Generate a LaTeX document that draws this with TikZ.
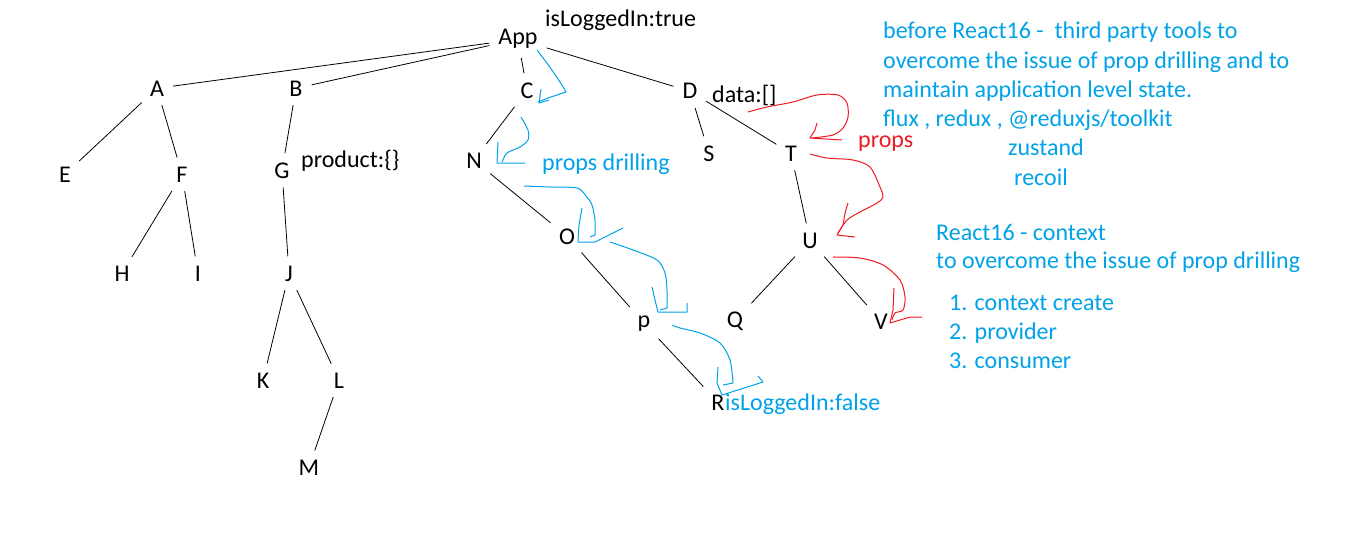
\documentclass[tikz,border=0pt]{standalone}
\usepackage{fontspec}
\setmainfont{Carlito}
\usetikzlibrary{arrows.meta}
\definecolor{paintblue}{RGB}{0,162,232}
\definecolor{paintred}{RGB}{237,28,36}
\tikzset{
  tn/.style={anchor=base, inner sep=6pt, font=\fontsize{24}{29}\selectfont},
  note/.style={anchor=base west, inner sep=0pt, font=\fontsize{24}{29}\selectfont},
  edge/.style={line width=0.8pt, shorten <=3pt, shorten >=3pt},
  bluepen/.style={paintblue, line width=1pt, line join=round},
  redpen/.style={paintred, line width=1pt, line join=round}
}
\begin{document}
\begin{tikzpicture}[x=1pt,y=-1pt]
\useasboundingbox[fill=white] (0,0) rectangle (1360,551);
% tree nodes
\node[tn] (App) at (518,45) {App};
\node[tn] (A) at (157,96) {A};
\node[tn] (B) at (296,96) {B};
\node[tn] (C) at (527,98) {C};
\node[tn] (D) at (690,99) {D};
\node[tn] (E) at (65,182) {E};
\node[tn] (F) at (182,182) {F};
\node[tn] (G) at (282,178) {G};
\node[tn] (N) at (474,168) {N};
\node[tn] (S) at (709,161) {S};
\node[tn] (T) at (791,161) {T};
\node[tn] (H) at (122,281) {H};
\node[tn] (I) at (198,281) {I};
\node[tn] (J) at (289,281) {J};
\node[tn] (O) at (567,244) {O};
\node[tn] (U) at (810,248) {U};
\node[tn] (p) at (644,327) {p};
\node[tn] (Q) at (735,327) {Q};
\node[tn] (V) at (881,329) {V};
\node[tn] (K) at (263,388) {K};
\node[tn] (L) at (339,388) {L};
\node[tn] (R) at (718,410) {R};
\node[tn] (M) at (309,475) {M};
% connectors
\foreach \a/\b in {App/A,App/B,App/C,App/D,A/E,A/F,B/G,F/H,F/I,G/J,J/K,J/L,L/M,
  C/N,N/O,O/p,p/R,D/S,D/T,T/U,U/Q,U/V}
  \draw[edge] (\a) -- (\b);
% state labels
\node[note] (logtrue) at (545,27) {isLoggedIn:true};
\node[note] (product) at (301,167) {product:\{\}};
\node[note] (data) at (712,102) {data:[]};
\node[note, text=paintblue] (drill) at (542,170) {props drilling};
\node[note, text=paintblue] (logfalse) at (725,410) {isLoggedIn:false};
\node[note, text=paintred] (props) at (858,147) {props};
% notes on the right
\node[note, text=paintblue] (n1) at (883,39) {before React16 -\ \ third party tools to};
\node[note, text=paintblue] (n2) at (883,68) {overcome the issue of prop drilling and to};
\node[note, text=paintblue] (n3) at (883,97) {maintain application level state.};
\node[note, text=paintblue] (n4) at (883,126) {flux , redux , @reduxjs/toolkit};
\node[note, text=paintblue] (n5) at (1008,155) {zustand};
\node[note, text=paintblue] (n6) at (1014,185) {recoil};
\node[note, text=paintblue] (c1) at (936,240) {React16 - context};
\node[note, text=paintblue] (c2) at (936,268) {to overcome the issue of prop drilling};
\node[note, text=paintblue] (s1) at (949,310) {1. context create};
\node[note, text=paintblue] (s2) at (949,339) {2. provider};
\node[note, text=paintblue] (s3) at (949,368) {3. consumer};
% blue hand drawn arrows
\draw[bluepen] plot[smooth] coordinates {(537,50) (549,66) (560,82) (566,92)} -- (548,98) -- (538,102);
\draw[bluepen] (541,89) -- (539,103) -- (549,100);
\draw[bluepen] plot[smooth] coordinates {(521,117) (528,130) (528,140) (520,147) (507,153) (502,162)};
\draw[bluepen] (498,142) -- (497,163) -- (525,163);
\draw[bluepen] plot[smooth] coordinates {(524,186) (550,187) (577,188) (586,196) (592,205) (595,220) (595,235)} -- (590,237);
\draw[bluepen] (582,208) -- (579,225) -- (578,242) -- (595,242) -- (623,228);
\draw[bluepen] plot[smooth] coordinates {(610,242) (633,250) (657,260) (665,273) (667,290) (667,308)} -- (660,310);
\draw[bluepen] (652,287) -- (655,300) -- (658,312) -- (687,312) -- (687,303);
\draw[bluepen] plot[smooth] coordinates {(672,325) (680,328) (700,333) (720,343) (730,360) (733,383)} -- (723,385);
\draw[bluepen] (718,367) -- (717,383) -- (722,395) -- (763,382) -- (758,376);
% red hand drawn arrows
\draw[redpen] plot[smooth] coordinates {(748,112) (767,107) (793,102) (817,95) (838,95) (847,103) (848,117) (843,128) (833,135) (812,138)};
\draw[redpen] (817,123) -- (815,130) -- (810,138) -- (842,140);
\draw[redpen] plot[smooth] coordinates {(810,154) (827,158) (853,160) (870,167) (880,187) (883,197) (877,203) (860,212) (847,220) (838,233)};
\draw[redpen] (848,203) -- (845,213) -- (843,225) -- (837,235) -- (855,237);
\draw[redpen] plot[smooth] coordinates {(833,257) (860,258) (883,265) (900,280) (905,297) (903,310) (895,313) (892,320)};
\draw[redpen] (894,288) -- (893,310) -- (890,323) -- (910,317) -- (922,317);
\end{tikzpicture}
\end{document}
